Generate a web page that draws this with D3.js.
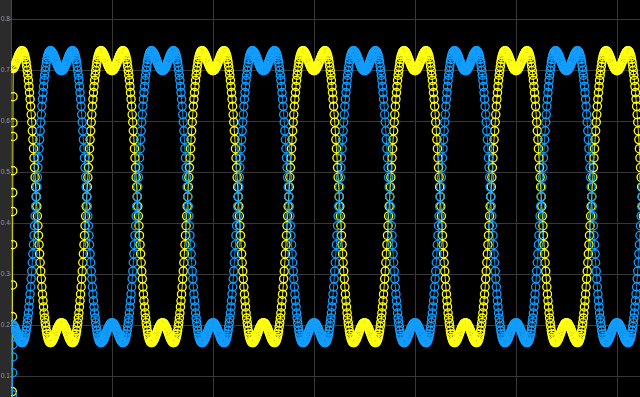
<!DOCTYPE html>
<html>
<head>
<meta charset="utf-8">
<script src="https://cdn.jsdelivr.net/npm/d3@7"></script>
<style>
  html, body { margin: 0; padding: 0; background: #000; overflow: hidden; }
</style>
</head>
<body>
<div id="chart"></div>
<script>
// one steady-state period of the trace,
// 180 samples starting at the centre of a top "M" (yellow M centres sit on integer t)
const cycleValues = [
  0.698, 0.699, 0.699, 0.700, 0.702, 0.704, 0.706, 0.708, 0.711, 0.714,
  0.717, 0.720, 0.723, 0.726, 0.729, 0.731, 0.733, 0.735, 0.736, 0.737,
  0.737, 0.736, 0.735, 0.732, 0.729, 0.725, 0.720, 0.714, 0.706, 0.698,
  0.689, 0.679, 0.667, 0.655, 0.642, 0.628, 0.612, 0.597, 0.580, 0.563,
  0.545, 0.527, 0.508, 0.489, 0.470,
  0.451, 0.432, 0.413, 0.394, 0.375, 0.357, 0.339, 0.322, 0.305, 0.290,
  0.274, 0.260, 0.247, 0.235, 0.223, 0.213, 0.204, 0.196, 0.188, 0.182,
  0.177, 0.173, 0.170, 0.167, 0.166, 0.165, 0.165, 0.166, 0.167, 0.169,
  0.171, 0.173, 0.176, 0.179, 0.182, 0.185, 0.188, 0.191, 0.194, 0.196,
  0.198, 0.200, 0.202, 0.203, 0.203,
  0.204, 0.203, 0.203, 0.202, 0.200, 0.198, 0.196, 0.194, 0.191, 0.188,
  0.185, 0.182, 0.179, 0.176, 0.173, 0.171, 0.169, 0.167, 0.166, 0.165,
  0.165, 0.166, 0.167, 0.170, 0.173, 0.177, 0.182, 0.188, 0.196, 0.204,
  0.213, 0.223, 0.235, 0.247, 0.260, 0.274, 0.290, 0.305, 0.322, 0.339,
  0.357, 0.375, 0.394, 0.413, 0.432,
  0.451, 0.470, 0.489, 0.508, 0.527, 0.545, 0.563, 0.580, 0.597, 0.612,
  0.628, 0.642, 0.655, 0.667, 0.679, 0.689, 0.698, 0.706, 0.714, 0.720,
  0.725, 0.729, 0.732, 0.735, 0.736, 0.737, 0.737, 0.736, 0.735, 0.733,
  0.731, 0.729, 0.726, 0.723, 0.720, 0.717, 0.714, 0.711, 0.708, 0.706,
  0.704, 0.702, 0.700, 0.699, 0.699
]
const samplesPerPeriod = cycleValues.length
const blueShift = 0.5        // blue trace runs half a period after yellow
const tEnd = 6.3

// start-up transient (both traces jump up right after t = 0)
const yellowStartT = [0.012, 0.013, 0.014, 0.015, 0.016, 0.017, 0.0175, 0.018, 0.019, 0.0195, 0.020]
const yellowStartV = [0.0, 0.069, 0.216, 0.278, 0.357, 0.422, 0.459, 0.502, 0.569, 0.596, 0.647]
const blueStartT = [0.012, 0.014, 0.016, 0.018, 0.020]
const blueStartV = [0.0, 0.063, 0.106, 0.137, 0.161]

const yTicks = [0.1, 0.2, 0.3, 0.4, 0.5, 0.6, 0.7, 0.8]
const xTicks = [0, 1, 2, 3, 4, 5, 6]

const W = 640, H = 397
const plotLeft = 11

const x = d3.scaleLinear().domain([0, 6.228]).range([plotLeft, W])
const y = d3.scaleLinear().domain([0, 0.8]).range([426.8, 18.6])

function buildSeries(startT, startV, shift) {
  const pts = startT.map((t, i) => ({ t: t, v: startV[i] }))
  const tFirst = startT[startT.length - 1]
  for (let n = -1; n < Math.ceil(tEnd) + 1; n++) {
    cycleValues.forEach((v, j) => {
      const t = n + shift + j / samplesPerPeriod
      if (t > tFirst && t <= tEnd) pts.push({ t: t, v: v })
    })
  }
  return pts
}

const yellow = buildSeries(yellowStartT, yellowStartV, 0)
const blue = buildSeries(blueStartT, blueStartV, blueShift)

const svg = d3.select('#chart').append('svg')
  .attr('width', W).attr('height', H)
  .style('display', 'block')
  .style('background', '#000')

svg.append('defs').append('clipPath').attr('id', 'plotclip')
  .append('rect').attr('x', plotLeft).attr('y', 0)
  .attr('width', W - plotLeft).attr('height', H)

// left strip where the y labels live
svg.append('rect')
  .attr('x', 0).attr('y', 0).attr('width', plotLeft).attr('height', H)
  .attr('fill', '#2b2b2b')

// grid
const yGrid = svg.append('g')
  .attr('class', 'y-grid')
  .attr('transform', 'translate(' + plotLeft + ',0)')
  .call(d3.axisLeft(y).tickValues(yTicks).tickSize(-(W - plotLeft)).tickPadding(1.2)
    .tickFormat(d3.format('.1f')))
yGrid.select('.domain').remove()
yGrid.selectAll('line')
  .attr('stroke', '#383838').attr('stroke-width', 1)
  .attr('shape-rendering', 'crispEdges')
yGrid.selectAll('text')
  .attr('fill', '#9a9a9a')
  .style('font-family', '"Liberation Sans", sans-serif')
  .style('font-size', '6.5px')

// little outer ticks next to the labels
const yTicksOut = svg.append('g')
  .attr('transform', 'translate(' + plotLeft + ',0)')
  .call(d3.axisLeft(y).tickValues(yTicks).tickSize(1.5).tickFormat(''))
yTicksOut.select('.domain').remove()
yTicksOut.selectAll('line').attr('stroke', '#6a6a6a').attr('shape-rendering', 'crispEdges')

const xGrid = svg.append('g')
  .attr('class', 'x-grid')
  .attr('transform', 'translate(0,' + H + ')')
  .call(d3.axisBottom(x).tickValues(xTicks).tickSize(-H).tickFormat(''))
xGrid.select('.domain').remove()
xGrid.selectAll('line')
  .attr('stroke', '#383838').attr('stroke-width', 1)
  .attr('shape-rendering', 'crispEdges')

svg.append('line')
  .attr('x1', plotLeft + 0.5).attr('x2', plotLeft + 0.5)
  .attr('y1', 0).attr('y2', H)
  .attr('stroke', '#4a4a4a')

// traces
const plot = svg.append('g').attr('clip-path', 'url(#plotclip)')
const line = d3.line().x(d => x(d.t)).y(d => y(d.v))

function drawTrace(data, color) {
  const g = plot.append('g')
  g.append('path')
    .datum(data)
    .attr('d', line)
    .attr('fill', 'none')
    .attr('stroke', color)
    .attr('stroke-width', 0.9)
  g.selectAll('circle')
    .data(data)
    .enter().append('circle')
    .attr('cx', d => x(d.t))
    .attr('cy', d => y(d.v))
    .attr('r', 4.1)
    .attr('fill', 'none')
    .attr('stroke', color)
    .attr('stroke-width', 1.3)
}

drawTrace(yellow, '#ffff11')
drawTrace(blue, '#129eff')
</script>
</body>
</html>
